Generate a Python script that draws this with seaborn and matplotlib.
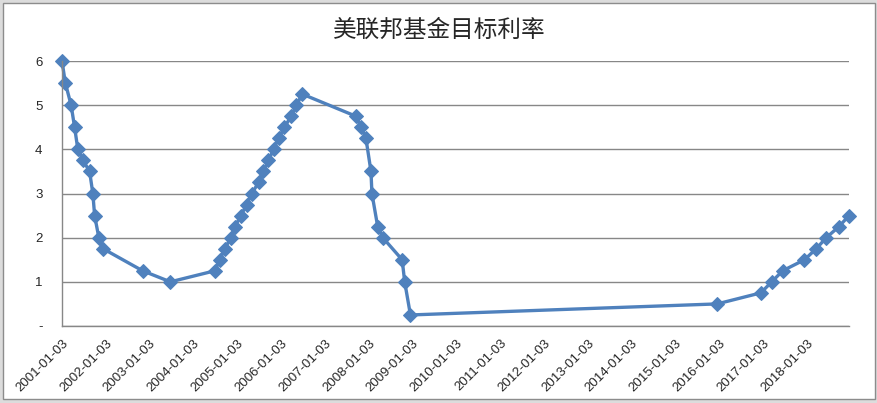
"""Fed funds target rate chart, 2001-2018."""
import matplotlib
matplotlib.use("Agg")
import matplotlib.pyplot as plt
import matplotlib.dates as mdates
from matplotlib.patches import Rectangle
from matplotlib.ticker import FuncFormatter
import pandas as pd
import seaborn as sns

# FOMC target rate changes (upper bound after 2008)
dates = [
    "2001-01-03", "2001-01-31", "2001-03-20", "2001-04-18", "2001-05-15",
    "2001-06-27", "2001-08-21", "2001-09-17", "2001-10-02", "2001-11-06",
    "2001-12-11", "2002-11-06", "2003-06-25", "2004-06-30", "2004-08-10",
    "2004-09-21", "2004-11-10", "2004-12-14", "2005-02-02", "2005-03-22",
    "2005-05-03", "2005-06-30", "2005-08-09", "2005-09-20", "2005-11-01",
    "2005-12-13", "2006-01-31", "2006-03-28", "2006-05-10", "2006-06-29",
    "2007-09-18", "2007-10-31", "2007-12-11", "2008-01-22", "2008-01-30",
    "2008-03-18", "2008-04-30", "2008-10-08", "2008-10-29", "2008-12-16",
    "2015-12-16", "2016-12-14", "2017-03-15", "2017-06-14", "2017-12-13",
    "2018-03-21", "2018-06-13", "2018-09-26", "2018-12-19",
]
rates = [
    6.00, 5.50, 5.00, 4.50, 4.00,
    3.75, 3.50, 3.00, 2.50, 2.00,
    1.75, 1.25, 1.00, 1.25, 1.50,
    1.75, 2.00, 2.25, 2.50, 2.75,
    3.00, 3.25, 3.50, 3.75, 4.00,
    4.25, 4.50, 4.75, 5.00, 5.25,
    4.75, 4.50, 4.25, 3.50, 3.00,
    2.25, 2.00, 1.50, 1.00, 0.25,
    0.50, 0.75, 1.00, 1.25, 1.50,
    1.75, 2.00, 2.25, 2.50,
]
tick_dates = [f"{y}-01-03" for y in range(2001, 2019)]
y_ticks = [0, 1, 2, 3, 4, 5, 6]
title = "美联邦基金目标利率"

df = pd.DataFrame({"date": pd.to_datetime(dates), "rate": rates})

sns.set_style("white")
plt.rcParams["font.family"] = ["Liberation Sans", "Noto Sans CJK SC"]

fig = plt.figure(figsize=(8.78, 4.03), dpi=100, facecolor="#dcdcdc")
fig.patches.append(Rectangle((3 / 878, 4 / 403), 872 / 878, 396 / 403,
                             transform=fig.transFigure, facecolor="white",
                             edgecolor="#8c8c8c", linewidth=1, zorder=-1))
ax = fig.add_axes([62 / 878, 1 - 326 / 403, (849 - 62) / 878, (326 - 61) / 403])
ax.set_facecolor("none")

sns.lineplot(data=df, x="date", y="rate", ax=ax, color="#4f81bd",
             linewidth=2.4, marker="D", markersize=7,
             markeredgecolor="#4f81bd", clip_on=False)

ax.set_xlim(df["date"].iloc[0], df["date"].iloc[-1])
ax.set_ylim(0, 6)
ax.set_xticks(pd.to_datetime(tick_dates))
ax.xaxis.set_major_formatter(mdates.DateFormatter("%Y-%m-%d"))
plt.setp(ax.get_xticklabels(), rotation=45, ha="right", rotation_mode="anchor")
ax.set_yticks(y_ticks)
ax.yaxis.set_major_formatter(FuncFormatter(lambda v, _: "-" if v == 0 else f"{v:g}"))

ax.grid(axis="y", color="#878787", linewidth=1)
ax.grid(axis="x", visible=False)
for side in ["top", "right"]:
    ax.spines[side].set_visible(False)
for side in ["left", "bottom"]:
    ax.spines[side].set_color("#878787")
    ax.spines[side].set_linewidth(1)
ax.tick_params(axis="x", length=4, color="#878787", labelsize=9.5, pad=4)
ax.tick_params(axis="y", length=0, labelsize=9.5, pad=14)
ax.set_xlabel("")
ax.set_ylabel("")

fig.text(0.5, 1 - 30 / 403, title, ha="center", va="center", fontsize=17,
         family=["Noto Sans CJK SC", "DejaVu Sans"])

fig.savefig("out.png", dpi=100, facecolor=fig.get_facecolor())
